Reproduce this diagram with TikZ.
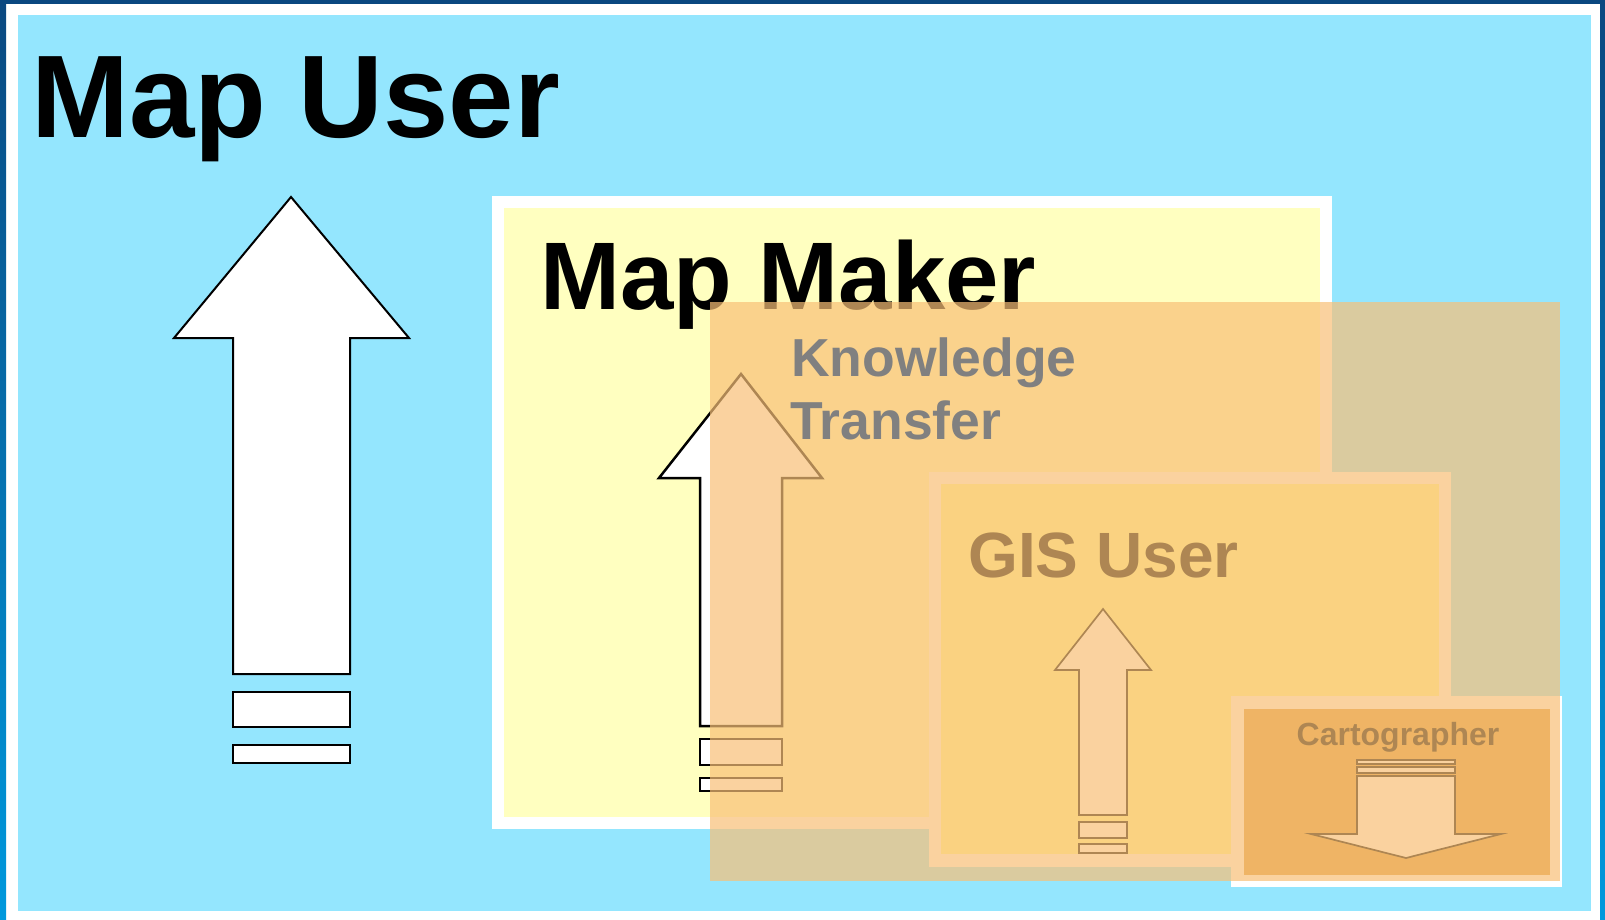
\documentclass[tikz,border=0pt]{standalone}
\usepackage{fontspec}
\setmainfont{Liberation Sans}
\definecolor{mapuser}{RGB}{148,230,254}
\definecolor{mapmaker}{RGB}{255,255,192}
\definecolor{gisuser}{RGB}{255,255,153}
\definecolor{carto}{RGB}{218,155,59}
\definecolor{transfer}{RGB}{248,192,119}
\definecolor{frametop}{RGB}{10,72,128}
\definecolor{framebot}{RGB}{0,153,221}
\definecolor{transfertext}{RGB}{128,128,128}
\tikzset{
  upshape/.style={draw=black, fill=white, line width=2pt},
  title/.style={font=\bfseries, inner sep=0pt, anchor=base west},
  layer/.style={fill=transfer, opacity=0.7},
}
\begin{document}
\begin{tikzpicture}[x=1pt,y=-1pt]
\useasboundingbox (0,0) rectangle (1605,920);
\fill[white] (0,0) rectangle (1605,920);
\fill[frametop] (0,0) rectangle (1605,4);
\shade[top color=frametop, bottom color=framebot] (0,0) rectangle (6,920);
\shade[top color=frametop, bottom color=framebot] (1600,0) rectangle (1605,920);
\fill[mapuser] (18,15) rectangle (1591,911);
% map user
\node[title, font=\bfseries\fontsize{117.5}{140}\selectfont] (mapuser) at (31,138) {Map User};
\draw[upshape] (291,197) -- (409,338) -- (350,338) -- (350,674) -- (233,674) -- (233,338) -- (174,338) -- cycle;
\draw[upshape] (233,692) rectangle (350,727);
\draw[upshape] (233,745) rectangle (350,763);
% map maker
\fill[white] (492,196) rectangle (1332,829);
\fill[mapmaker] (504,208) rectangle (1320,817);
\node[title, font=\bfseries\fontsize{96}{116}\selectfont] (mapmaker) at (540,309) {Map Maker};
\draw[upshape, line width=2.5pt] (741,374) -- (822,478) -- (782,478) -- (782,726) -- (700,726) -- (700,478) -- (659,478) -- cycle;
\draw[upshape, line width=2.5pt] (700,739) rectangle (782,765);
\draw[upshape, line width=2.5pt] (700,778) rectangle (782,791);
% gis user
\fill[white] (929,472) rectangle (1451,867);
\fill[gisuser] (941,484) rectangle (1439,854);
\node[title, font=\bfseries\fontsize{64}{78}\selectfont] (gisuser) at (968,577) {GIS User};
\draw[upshape, line width=1.7pt] (1103,609) -- (1151,670) -- (1127,670) -- (1127,815) -- (1079,815) -- (1079,670) -- (1055,670) -- cycle;
\draw[upshape, line width=1.7pt] (1079,822) rectangle (1127,838);
\draw[upshape, line width=1.7pt] (1079,844) rectangle (1127,853);
% cartographer
\fill[white] (1231,696) rectangle (1562,887);
\fill[carto] (1244,709) rectangle (1550,875);
\node[title, anchor=base, font=\bfseries\fontsize{32}{39}\selectfont] (carto) at (1398,745) {Cartographer};
\draw[upshape, line width=1.7pt] (1357,760) rectangle (1455,764);
\draw[upshape, line width=1.7pt] (1357,767) rectangle (1455,773);
\draw[upshape, line width=1.7pt] (1357,776) -- (1455,776) -- (1455,834) -- (1501,834) -- (1406,858) -- (1311,834) -- (1357,834) -- cycle;
% knowledge transfer
\fill[layer] (710,302) rectangle (1560,881);
\node[title, text=transfertext, font=\bfseries\fontsize{53.5}{64}\selectfont] (knowledge) at (791,376) {Knowledge};
\node[title, text=transfertext, font=\bfseries\fontsize{53.5}{64}\selectfont] (transfer) at (790,439) {Transfer};
\end{tikzpicture}
\end{document}
